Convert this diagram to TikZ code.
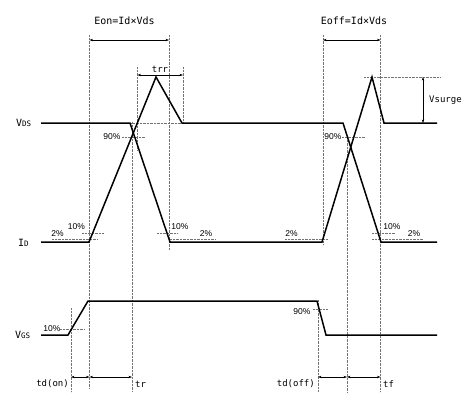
\documentclass[tikz,border=0pt]{standalone}
\usepackage{fontspec}
\setmainfont{Liberation Sans}
\newfontfamily\monof{DejaVu Sans Mono}
\usetikzlibrary{arrows.meta}
\begin{document}
\begin{tikzpicture}[x=1pt,y=-1pt,
  wave/.style={line width=1.5pt, line join=miter},
  guide/.style={black!55, line width=0.4pt, densely dotted},
  dimline/.style={line width=0.5pt, {Stealth[length=3.5pt,width=2.4pt]}-{Stealth[length=3.5pt,width=2.4pt]}},
  pct/.style={font=\fontsize{8.5}{8.5}\selectfont, inner sep=0pt},
  mono/.style={font=\monof\fontsize{9}{9}\selectfont, inner sep=0pt},
  big/.style={font=\monof\fontsize{10}{10}\selectfont, inner sep=0pt},
  rowlbl/.style={font=\monof\fontsize{10}{10}\selectfont, inner sep=0pt, anchor=west},
]
\useasboundingbox (0,0) rectangle (466,392);

% key points
\coordinate (vds0) at (41,123);
\coordinate (vdsA) at (130,123);
\coordinate (vdsB) at (170,242);
\coordinate (vdsC) at (322,242);
\coordinate (pk2) at (372,77);
\coordinate (rec2) at (384,123);
\coordinate (vdsEnd) at (437,123);
\coordinate (id0) at (41,242);
\coordinate (idA) at (89,242);
\coordinate (pk1) at (156,77);
\coordinate (rec1) at (182,123);
\coordinate (idB) at (343,123);
\coordinate (idC) at (381,242);
\coordinate (idEnd) at (437,242);
\coordinate (vg0) at (41,335);
\coordinate (vgA) at (68,335);
\coordinate (vgB) at (88,301);
\coordinate (vgC) at (317,301);
\coordinate (vgD) at (326,335);
\coordinate (vgEnd) at (437,335);

% guide lines (vertical)
\draw[guide] (89.5,35) -- (89.5,388);
\draw[guide] (169,35) -- (169,250);
\draw[guide] (132,122) -- (132,392);
\draw[guide] (137.5,67) -- (137.5,150);
\draw[guide] (183,67) -- (183,123);
\draw[guide] (71,308) -- (71,392);
\draw[guide] (323,35) -- (323,245);
\draw[guide] (380.5,35) -- (380.5,392);
\draw[guide] (347,137) -- (347,392);
\draw[guide] (318,300) -- (318,392);
% guide lines (horizontal)
\draw[guide] (130,123) -- (183,123);
\draw[guide] (364,77) -- (440,77);
\draw[guide] (122,137) -- (145,137);
\draw[guide] (342,137) -- (365,137);
\draw[guide] (82,233) -- (104,233);
\draw[guide] (157,233) -- (178,233);
\draw[guide] (372,233) -- (395,233);
\draw[guide] (52,239) -- (97,239);
\draw[guide] (170,239) -- (215,239);
\draw[guide] (285,239) -- (328,239);
\draw[guide] (372,239) -- (423,239);
\draw[guide] (60,329) -- (85,329);
\draw[guide] (313,309) -- (328,309);

% waveforms
\draw[wave] (vds0) -- (vdsA) -- (vdsB) -- (vdsC) -- (pk2) -- (rec2) -- (vdsEnd);
\draw[wave] (id0) -- (idA) -- (pk1) -- (rec1) -- (idB) -- (idC) -- (idEnd);
\draw[wave] (vg0) -- (vgA) -- (vgB) -- (vgC) -- (vgD) -- (vgEnd);

% dimension arrows
\coordinate (eonL) at (89.5,40);
\coordinate (eonR) at (169,40);
\coordinate (eoffL) at (323,40);
\coordinate (eoffR) at (380.5,40);
\coordinate (trrL) at (137.5,75);
\coordinate (trrR) at (183,75);
\coordinate (vsT) at (423,77);
\coordinate (vsB) at (423,123);
\coordinate (tdonL) at (71,377);
\coordinate (tdonR) at (89.5,377);
\coordinate (trR) at (132,377);
\coordinate (tdoffL) at (318,377);
\coordinate (tdoffR) at (347,377);
\coordinate (tfR) at (380.5,377);
\draw[dimline] (eonL) -- (eonR);
\draw[dimline] (eoffL) -- (eoffR);
\draw[dimline] (trrL) -- (trrR);
\draw[dimline] (vsT) -- (vsB);
\draw[dimline] (tdonL) -- (tdonR);
\draw[dimline] (tdonR) -- (trR);
\draw[dimline] (tdoffL) -- (tdoffR);
\draw[dimline] (tdoffR) -- (tfR);

% labels
\node[big] (leon) at (124.5,21) {Eon=Id×Vds};
\node[big] (leoff) at (354,21) {Eoff=Id×Vds};
\node[mono] (ltrr) at (160,69) {trr};
\node[mono, anchor=west] (lvs) at (429,100) {Vsurge};
\node[mono, anchor=east] (ltdon) at (69,384) {td(on)};
\node[mono, anchor=west] (ltr) at (135,384) {tr};
\node[mono, anchor=east] (ltdoff) at (315,384) {td(off)};
\node[mono, anchor=west] (ltf) at (383,384) {tf};
\node[rowlbl] (lvds) at (16,123) {V\fontsize{7.5}{7.5}\selectfont DS};
\node[rowlbl] (lid) at (18,243) {I\fontsize{7.5}{7.5}\selectfont D};
\node[rowlbl] (lvgs) at (15,335) {V\fontsize{7.5}{7.5}\selectfont GS};

\node[pct] (p1) at (57.5,234) {2\%};
\node[pct] (p2) at (76.5,227) {10\%};
\node[pct] (p3) at (180,227) {10\%};
\node[pct] (p4) at (206,234) {2\%};
\node[pct] (p5) at (112,137) {90\%};
\node[pct] (p6) at (291.5,234) {2\%};
\node[pct] (p7) at (333,137) {90\%};
\node[pct] (p8) at (392,227) {10\%};
\node[pct] (p9) at (414,234) {2\%};
\node[pct] (p10) at (52,329) {10\%};
\node[pct] (p11) at (302,312) {90\%};
\end{tikzpicture}
\end{document}
